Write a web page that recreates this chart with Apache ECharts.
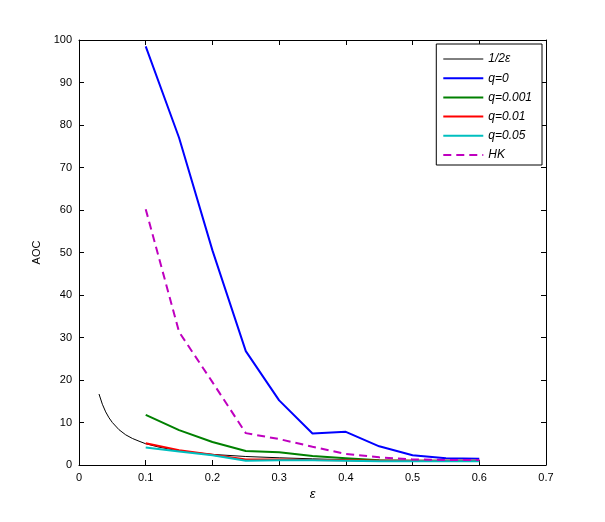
<!DOCTYPE html>
<html>
<head>
<meta charset="utf-8">
<script src="https://cdn.jsdelivr.net/npm/echarts@6/dist/echarts.min.js"></script>
<style>html,body{margin:0;padding:0;background:#fff;}#c{width:605px;height:522px;}</style>
</head>
<body>
<div id="c"></div>
<script>
// Data
const xInv = [0.03,0.035,0.04,0.045,0.05,0.06,0.07,0.08,0.09,0.1,0.12,0.15,0.2,0.25,0.3,0.35,0.4,0.45,0.5,0.55,0.6];
const yInv = [16.7,14.3,12.5,11.1,10,8.3,7.1,6.25,5.6,5,4.2,3.3,2.5,2,1.7,1.45,1.25,1.1,1,0.9,0.85];
const eps = [0.1,0.15,0.2,0.25,0.3,0.35,0.4,0.45,0.5,0.55,0.6];
const q0    = [98.5,77,50.5,26.8,15.2,7.4,7.8,4.4,2.3,1.6,1.5];
const q0001 = [11.8,8.2,5.4,3.3,3.0,2.1,1.6,1.1,1.0,1.0,1.0];
const q001  = [5.1,3.5,2.4,1.3,1.3,1.2,1.1,1.0,1.0,1.0,1.0];
const q005  = [4.1,3.2,2.3,1.0,1.1,1.1,1.0,0.9,0.9,0.9,0.9];
const hk    = [60.2,31.3,19.5,7.5,6.1,4.3,2.6,1.8,1.3,1.2,1.2];
const seriesNames = ['1/2\u03b5','q=0','q=0.001','q=0.01','q=0.05','HK'];

function pairs(xs, ys){ return xs.map((x,i)=>[x, ys[i]]); }

const chart = echarts.init(document.getElementById('c'), null, {renderer:'canvas'});
const fontFam = 'Liberation Sans, Arial, sans-serif';
const axisCommon = {
  axisLine:{show:true, onZero:false, lineStyle:{color:'#000', width:1}},
  axisTick:{show:true, inside:true, length:5, lineStyle:{color:'#000'}},
  splitLine:{show:false},
};
const mk = (name, data, color, width, type) => ({
  name, type:'line', data, showSymbol:false, symbol:'none', animation:false,
  lineStyle:{color, width, type: type||'solid'}, itemStyle:{color}
});
chart.setOption({
  backgroundColor:'#fff',
  animation:false,
  grid:{left:79, right:59, top:40, bottom:57, containLabel:false},
  legend:{
    orient:'vertical', right:63, top:44, itemWidth:40, itemHeight:10, itemGap:7.2,
    backgroundColor:'#fff', borderColor:'#000', borderWidth:1, borderRadius:0,
    padding:[9,10,4,6],
    itemStyle:{opacity:0},
    textStyle:{fontFamily:fontFam, fontSize:12, fontStyle:'italic', color:'#000'},
    data: seriesNames.map((n,i)=> i===0 ? {name:n, lineStyle:{width:1}} : {name:n})
  },
  xAxis:[
    Object.assign({type:'value', min:0, max:0.7, interval:0.1, name:'\u03b5', nameLocation:'middle', nameGap:22,
      nameTextStyle:{fontFamily:fontFam, fontSize:13, fontStyle:'italic', color:'#000'},
      axisLabel:{fontFamily:fontFam, fontSize:11, color:'#000', margin:7, formatter:v=>(+v.toFixed(1)).toString()}}, axisCommon),
    Object.assign({type:'value', position:'top', min:0, max:0.7, interval:0.1, axisLabel:{show:false}}, axisCommon)
  ],
  yAxis:[
    Object.assign({type:'value', min:0, max:100, interval:10, name:'AOC', nameLocation:'middle', nameGap:37,
      nameTextStyle:{fontFamily:fontFam, fontSize:11, color:'#000'},
      axisLabel:{fontFamily:fontFam, fontSize:11, color:'#000', margin:7}}, axisCommon),
    Object.assign({type:'value', position:'right', min:0, max:100, interval:10, axisLabel:{show:false}}, axisCommon)
  ],
  series:[
    mk(seriesNames[0], pairs(xInv, yInv), '#000000', 1),
    mk(seriesNames[1], pairs(eps, q0), '#0000ff', 2),
    mk(seriesNames[2], pairs(eps, q0001), '#008000', 2),
    mk(seriesNames[3], pairs(eps, q001), '#ff0000', 2),
    mk(seriesNames[4], pairs(eps, q005), '#00bfbf', 2),
    mk(seriesNames[5], pairs(eps, hk), '#bf00bf', 2, [8,5])
  ]
});
</script>
</body>
</html>
